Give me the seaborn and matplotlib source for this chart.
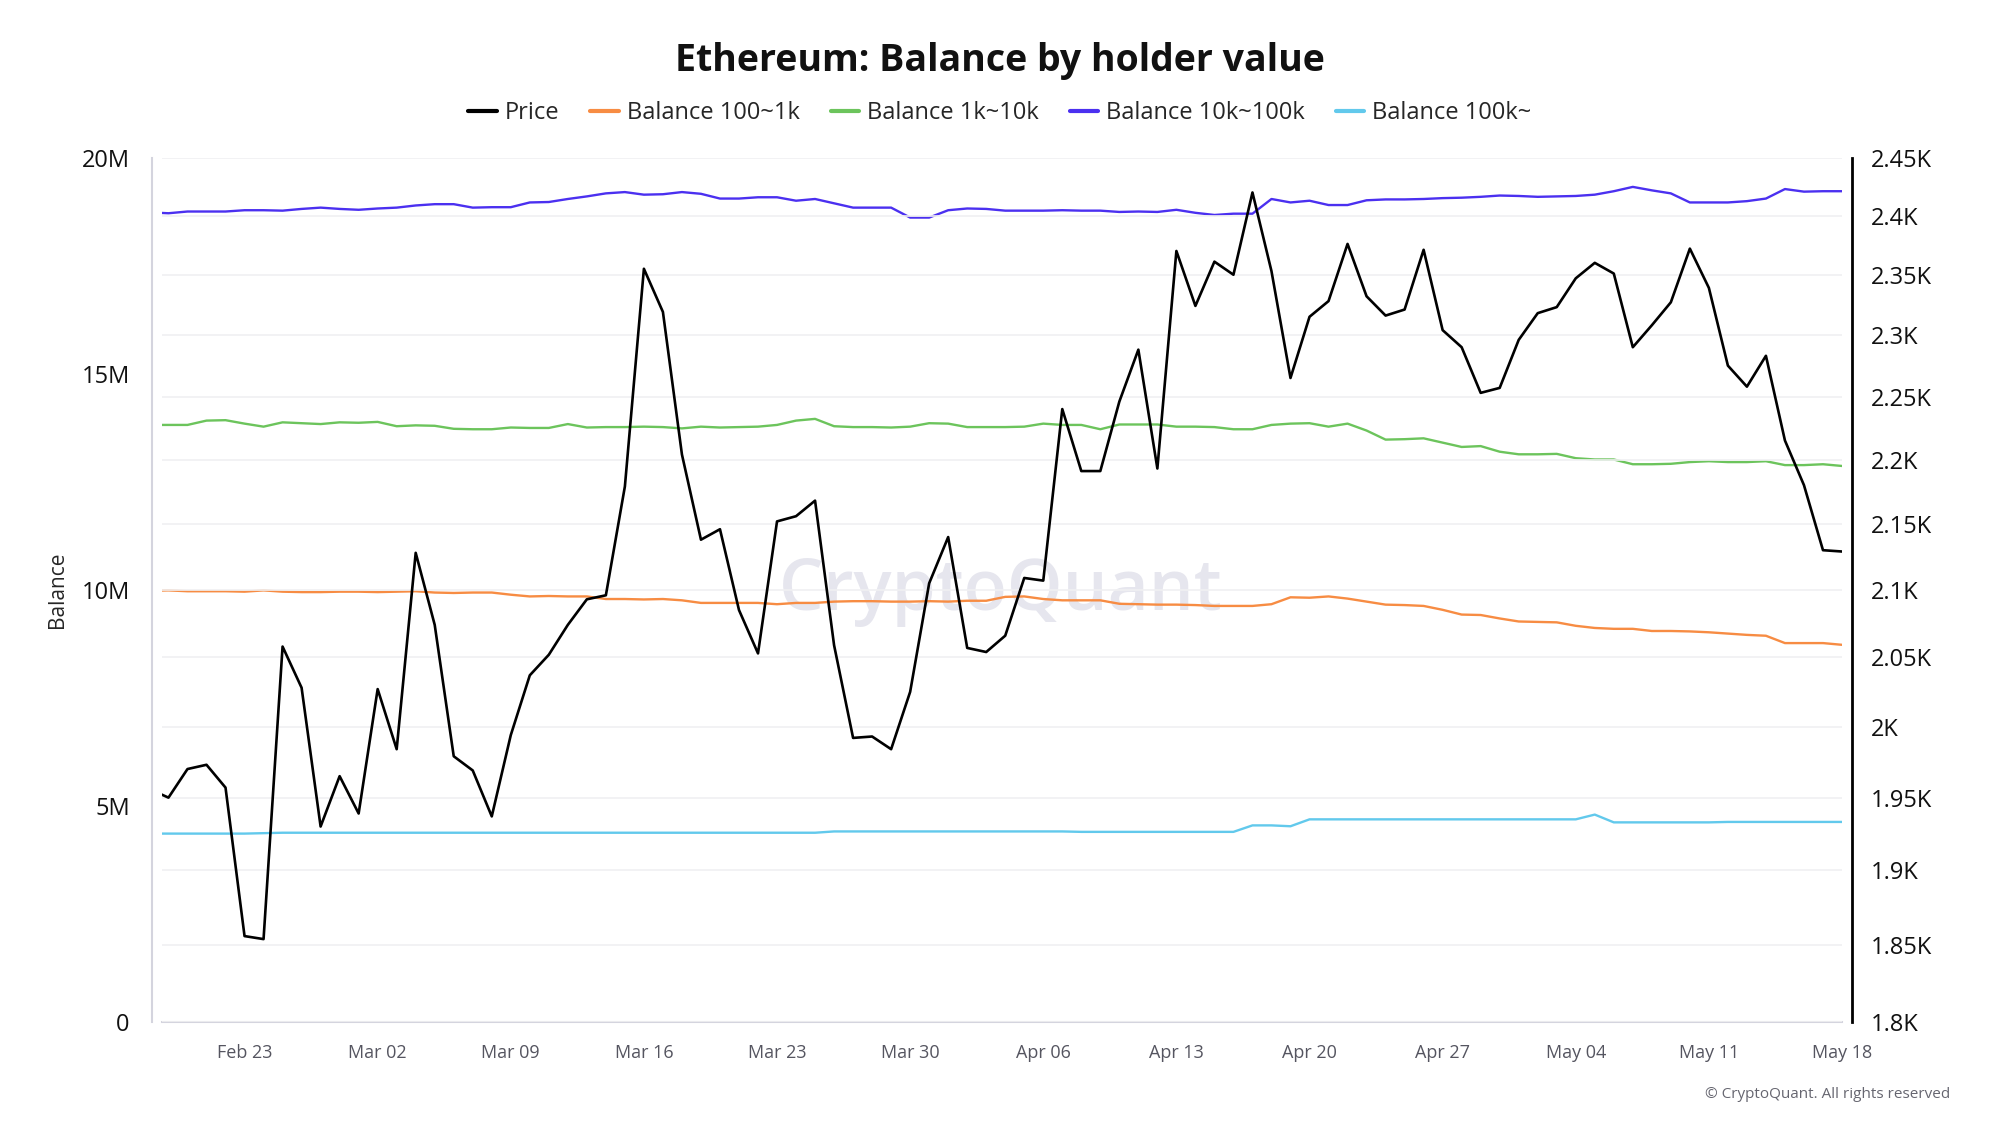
import matplotlib
matplotlib.use("Agg")
import matplotlib.pyplot as plt
import matplotlib.dates as mdates
import matplotlib.ticker as mticker
import pandas as pd
import seaborn as sns

# daily values, Feb 18 .. May 18
dates = pd.date_range("2025-02-18", "2025-05-18", freq="D")

price = [
    1956, 1950, 1970, 1973, 1957, 1856, 1854, 2058, 2028, 1930, 1965,
    1939, 2027, 1984, 2128, 2074, 1979, 1969, 1937, 1994, 2037, 2052, 2074, 2093, 2096, 2179,
    2355, 2319, 2204, 2138, 2146, 2085, 2053, 2152, 2156, 2168, 2059, 1992, 1993, 1984, 2025, 2105,
    2140, 2057, 2054, 2066, 2109, 2107, 2240, 2191, 2191, 2246, 2288, 2193, 2370, 2324, 2361,
    2350, 2420, 2353, 2265, 2315, 2328, 2376, 2332, 2316, 2321, 2371, 2304, 2290, 2253, 2257,
    2296, 2318, 2323, 2347, 2360, 2351, 2290, 2308, 2327, 2372, 2339, 2275, 2258, 2283, 2215,
    2180, 2130, 2129,
]

bal_100_1k = [
    9.98, 9.99, 9.97, 9.97, 9.97, 9.96, 9.99, 9.96, 9.95, 9.95, 9.96,
    9.96, 9.95, 9.96, 9.97, 9.94, 9.93, 9.94, 9.94, 9.89, 9.85, 9.86, 9.85, 9.85, 9.79, 9.79,
    9.78, 9.79, 9.76, 9.70, 9.70, 9.70, 9.70, 9.67, 9.70, 9.70, 9.73, 9.74, 9.74, 9.73, 9.73, 9.74,
    9.73, 9.75, 9.75, 9.84, 9.85, 9.79, 9.76, 9.76, 9.76, 9.68, 9.67, 9.66, 9.66, 9.65, 9.63,
    9.63, 9.63, 9.67, 9.83, 9.82, 9.85, 9.80, 9.73, 9.66, 9.65, 9.63, 9.54, 9.43, 9.42, 9.34,
    9.27, 9.26, 9.25, 9.17, 9.12, 9.10, 9.10, 9.05, 9.05, 9.04, 9.02, 8.99, 8.96, 8.94, 8.77,
    8.77, 8.77, 8.73,
]

bal_1k_10k = [
    13.82, 13.82, 13.82, 13.92, 13.93, 13.85, 13.78, 13.88, 13.86, 13.84, 13.88,
    13.87, 13.89, 13.79, 13.81, 13.80, 13.73, 13.72, 13.72, 13.76, 13.75, 13.75, 13.84, 13.76, 13.77, 13.77,
    13.78, 13.77, 13.74, 13.78, 13.76, 13.77, 13.78, 13.82, 13.92, 13.96, 13.79, 13.77, 13.77, 13.76, 13.78, 13.86,
    13.85, 13.77, 13.77, 13.77, 13.78, 13.85, 13.82, 13.82, 13.72, 13.83, 13.83, 13.83, 13.78, 13.78, 13.77,
    13.72, 13.72, 13.82, 13.85, 13.86, 13.78, 13.85, 13.69, 13.48, 13.49, 13.51, 13.41, 13.31, 13.33, 13.20,
    13.14, 13.14, 13.15, 13.05, 13.02, 13.02, 12.91, 12.91, 12.92, 12.96, 12.98, 12.96, 12.96, 12.98, 12.89,
    12.89, 12.91, 12.87,
]

bal_10k_100k = [
    18.74, 18.72, 18.76, 18.76, 18.76, 18.79, 18.79, 18.78, 18.82, 18.85, 18.82,
    18.80, 18.83, 18.85, 18.90, 18.93, 18.93, 18.85, 18.86, 18.86, 18.97, 18.98, 19.05, 19.11, 19.18, 19.21,
    19.15, 19.16, 19.21, 19.17, 19.06, 19.06, 19.09, 19.09, 19.01, 19.05, 18.95, 18.85, 18.85, 18.85, 18.62, 18.62,
    18.79, 18.83, 18.82, 18.78, 18.78, 18.78, 18.79, 18.78, 18.78, 18.75, 18.76, 18.75, 18.80, 18.73, 18.68,
    18.71, 18.71, 19.05, 18.97, 19.01, 18.91, 18.91, 19.02, 19.04, 19.04, 19.05, 19.07, 19.08, 19.10, 19.13,
    19.12, 19.10, 19.11, 19.12, 19.15, 19.23, 19.33, 19.25, 19.18, 18.97, 18.97, 18.97, 19.00, 19.06, 19.28,
    19.22, 19.23, 19.23,
]

bal_100k = [
    4.36, 4.36, 4.36, 4.36, 4.36, 4.36, 4.37, 4.38, 4.38, 4.38, 4.38,
    4.38, 4.38, 4.38, 4.38, 4.38, 4.38, 4.38, 4.38, 4.38, 4.38, 4.38, 4.38, 4.38, 4.38, 4.38,
    4.38, 4.38, 4.38, 4.38, 4.38, 4.38, 4.38, 4.38, 4.38, 4.38, 4.41, 4.41, 4.41, 4.41, 4.41, 4.41,
    4.41, 4.41, 4.41, 4.41, 4.41, 4.41, 4.41, 4.40, 4.40, 4.40, 4.40, 4.40, 4.40, 4.40, 4.40,
    4.40, 4.55, 4.55, 4.53, 4.69, 4.69, 4.69, 4.69, 4.69, 4.69, 4.69, 4.69, 4.69, 4.69, 4.69,
    4.69, 4.69, 4.69, 4.69, 4.80, 4.62, 4.62, 4.62, 4.62, 4.62, 4.62, 4.63, 4.63, 4.63, 4.63,
    4.63, 4.63, 4.63,
]

labels = ["Price", "Balance 100~1k", "Balance 1k~10k", "Balance 10k~100k", "Balance 100k~"]
colors = ["#000000", "#f78c43", "#6cc45c", "#4b30f0", "#62c9ec"]

df = pd.DataFrame({
    "date": dates,
    "price": price,
    "b1": [v * 1e6 for v in bal_100_1k],
    "b2": [v * 1e6 for v in bal_1k_10k],
    "b3": [v * 1e6 for v in bal_10k_100k],
    "b4": [v * 1e6 for v in bal_100k],
})

sns.set_style("white")
plt.rcParams["font.family"] = ["Open Sans", "DejaVu Sans"]

fig = plt.figure(figsize=(20, 11.25), dpi=100)
ax = fig.add_axes([0.0808, 0.0916, 0.8402, 0.768])
ax2 = ax.twinx()

# balances on the left axis
for col, lab, c in zip(["b1", "b2", "b3", "b4"], labels[1:], colors[1:]):
    sns.lineplot(data=df, x="date", y=col, ax=ax, color=c, linewidth=1.7, label=lab)

# price on the right (log) axis
sns.lineplot(data=df, x="date", y="price", ax=ax2, color=colors[0], linewidth=1.9, label=labels[0])

ax.set_ylim(0, 20e6)
ax.set_yticks([0, 5e6, 10e6, 15e6, 20e6])
ax.yaxis.set_major_formatter(mticker.FuncFormatter(lambda v, p: "0" if v == 0 else f"{v/1e6:g}M"))
ax.set_ylabel("Balance", fontsize=15, labelpad=10)
ax.set_xlabel("")

ax2.set_yscale("log")
ax2.set_ylim(1800, 2450)
ax2.yaxis.set_major_locator(mticker.FixedLocator(list(range(1800, 2451, 50))))
ax2.yaxis.set_minor_locator(mticker.NullLocator())
ax2.yaxis.set_major_formatter(mticker.FuncFormatter(lambda v, p: f"{v/1000:g}K"))
ax2.set_ylabel("")
ax2.grid(True, axis="y", color="#f0f0f2", linewidth=1.2)
ax2.set_axisbelow(True)

ax.set_xlim(pd.Timestamp("2025-02-18 15:20"), pd.Timestamp("2025-05-18"))
ax.xaxis.set_major_locator(mdates.WeekdayLocator(byweekday=mdates.SU))
ax.xaxis.set_major_formatter(mdates.DateFormatter("%b %d"))

ax.tick_params(axis="x", colors="#c8c8d4", length=8, width=1.2, pad=8, labelsize=13, labelcolor="#555560")
ax.tick_params(axis="y", length=0, pad=16, labelsize=17, labelcolor="#111111")
ax2.tick_params(axis="y", length=0, pad=14, labelsize=17, labelcolor="#111111")

for a in (ax, ax2):
    for s in a.spines.values():
        s.set_visible(False)
ax.spines["left"].set_visible(True)
ax.spines["left"].set_color("#d4d4de")
ax.spines["left"].set_linewidth(1.5)
ax.spines["left"].set_position(("outward", 7))
ax.spines["bottom"].set_visible(True)
ax.spines["bottom"].set_color("#d4d4de")
ax.spines["bottom"].set_linewidth(1.5)
ax2.spines["right"].set_visible(True)
ax2.spines["right"].set_color("#000000")
ax2.spines["right"].set_linewidth(2)
ax2.spines["right"].set_position(("outward", 7))

# watermark
ax.text(0.4995, 0.498, "CryptoQuant", transform=ax.transAxes, ha="center", va="center",
        fontsize=51, fontweight="semibold", color="#e6e6ee", zorder=0.5)

# legend
handles, labs = [], []
for a in (ax2, ax):
    h, l = a.get_legend_handles_labels()
    handles += h
    labs += l
    if a.get_legend() is not None:
        a.get_legend().remove()
leg = fig.legend(handles, labs, loc="center", bbox_to_anchor=(0.5, 1 - 113 / 1125), ncol=5, frameon=False,
                 fontsize=17, handlelength=1.2, handletextpad=0.35, columnspacing=1.3)
for line in leg.get_lines():
    line.set_linewidth(3)

fig.text(0.5, 1 - 61 / 1125, "Ethereum: Balance by holder value", ha="center", va="center",
         fontsize=27, fontweight="bold", color="#111111")
fig.text(0.975, 1 - 1095 / 1125, "© CryptoQuant. All rights reserved", ha="right", va="center",
         fontsize=11, color="#666670")

fig.savefig("out.png", dpi=100)
